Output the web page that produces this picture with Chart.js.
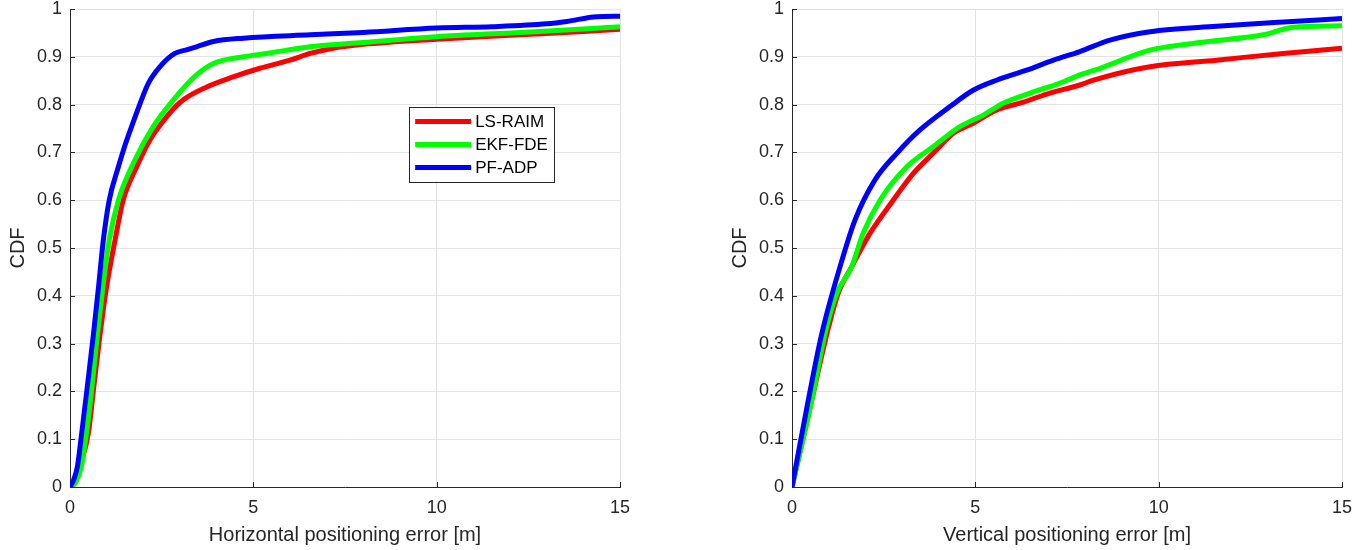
<!DOCTYPE html>
<html lang="en">
<head>
  <meta charset="UTF-8">
  <title>CDF of positioning error</title>
  <script src="https://cdn.jsdelivr.net/npm/chart.js"></script>
  <style>
    html, body {
      margin: 0;
      padding: 0;
      background: #fff;
      width: 1368px;
      height: 550px;
      overflow: hidden;
    }
    .panel {
      position: absolute;
      top: 0;
      height: 550px;
    }
    #left { left: 0; width: 640px; }
    #right { left: 722px; width: 646px; }
  </style>
</head>
<body>

  <div class="panel" id="left"><canvas id="hChart"></canvas></div>
  <div class="panel" id="right"><canvas id="vChart"></canvas></div>

  <script>
    const seriesNames = ['LS-RAIM', 'EKF-FDE', 'PF-ADP'];
    const xTicks = [0, 5, 10, 15];
    const yTicks = [0, 0.1, 0.2, 0.3, 0.4, 0.5, 0.6, 0.7, 0.8, 0.9, 1];

    // horizontal error CDF
    const lsRaimHorizX = [0, 0.15, 0.27, 0.5, 0.65, 0.82, 1.0, 1.23, 1.45, 1.82, 2.18, 2.64, 3.09, 3.73, 4.45, 5.18, 6.0, 6.55, 7.18, 8, 10, 12, 14, 15];
    const lsRaimHorizY = [0, 0.01, 0.042, 0.112, 0.21, 0.32, 0.42, 0.517, 0.6, 0.67, 0.726, 0.775, 0.81, 0.837, 0.858, 0.876, 0.893, 0.907, 0.918, 0.926, 0.9366, 0.945, 0.953, 0.9575];
    const ekfFdeHorizX = [0, 0.15, 0.3, 0.45, 0.6, 0.75, 0.9, 1.07, 1.32, 1.77, 2.27, 2.82, 3.45, 3.91, 4.73, 5.36, 6.55, 8, 10, 12, 14, 15];
    const ekfFdeHorizY = [0, 0.01, 0.04, 0.112, 0.21, 0.32, 0.42, 0.517, 0.6, 0.684, 0.754, 0.81, 0.862, 0.886, 0.9, 0.907, 0.921, 0.93, 0.942, 0.95, 0.958, 0.963];
    const pfAdpHorizX = [0, 0.1, 0.2, 0.32, 0.48, 0.64, 0.78, 0.91, 1.07, 1.32, 1.5, 1.68, 1.9, 2.14, 2.45, 2.86, 3.2, 3.45, 3.91, 4.73, 6.55, 8, 10, 11.5, 13, 13.55, 14.36, 15];
    const pfAdpHorizY = [0, 0.015, 0.042, 0.113, 0.215, 0.32, 0.42, 0.517, 0.6, 0.67, 0.715, 0.754, 0.8, 0.845, 0.879, 0.907, 0.915, 0.921, 0.932, 0.939, 0.946, 0.951, 0.96, 0.963, 0.969, 0.974, 0.984, 0.985];

    // vertical error CDF
    const lsRaimVertX = [0, 0.54, 0.95, 1.26, 1.63, 2.13, 2.76, 3.31, 3.85, 4.4, 4.94, 5.58, 6.22, 6.95, 7.85, 8.22, 9.76, 11.58, 13.4, 15];
    const lsRaimVertY = [0, 0.182, 0.32, 0.405, 0.461, 0.531, 0.6, 0.656, 0.698, 0.74, 0.761, 0.789, 0.803, 0.822, 0.841, 0.851, 0.879, 0.893, 0.907, 0.918];
    const ekfFdeVertX = [0, 0.54, 0.9, 1.22, 1.63, 1.94, 2.4, 3.13, 3.85, 4.58, 5.22, 5.76, 6.49, 7.31, 7.85, 8.4, 9.76, 11.13, 12.85, 13.67, 15];
    const ekfFdeVertY = [0, 0.182, 0.32, 0.405, 0.461, 0.531, 0.6, 0.67, 0.712, 0.754, 0.778, 0.803, 0.824, 0.845, 0.862, 0.876, 0.914, 0.93, 0.946, 0.962, 0.965];
    const pfAdpVertX = [0, 0.445, 0.81, 1.31, 1.72, 2.26, 2.86, 3.49, 4.31, 4.94, 5.58, 6.4, 7.13, 7.85, 8.67, 9.76, 11.58, 13.4, 15];
    const pfAdpVertY = [0, 0.182, 0.32, 0.461, 0.559, 0.642, 0.698, 0.747, 0.796, 0.83, 0.851, 0.872, 0.893, 0.911, 0.935, 0.9526, 0.964, 0.973, 0.98];

    const colors = ['#ff0000', '#00ff00', '#0000ff'];
    const axisColor = '#262626';
    const gridColor = '#e3e3e3';
    const fontFamily = '"Liberation Sans", Arial, sans-serif';

    function toPoints(xs, ys) {
      return xs.map((x, i) => ({ x: x, y: ys[i] }));
    }

    // MATLAB style ticks pointing into the plot
    const innerTicks = {
      id: 'innerTicks',
      beforeDatasetsDraw(chart) {
        const { ctx, chartArea, scales } = chart;
        ctx.save();
        ctx.strokeStyle = axisColor;
        ctx.lineWidth = 1;
        ctx.beginPath();
        xTicks.forEach(v => {
          const px = Math.round(scales.x.getPixelForValue(v)) + 0.5;
          ctx.moveTo(px, chartArea.bottom);
          ctx.lineTo(px, chartArea.bottom - 5);
        });
        yTicks.forEach(v => {
          const py = Math.round(scales.y.getPixelForValue(v)) + 0.5;
          ctx.moveTo(chartArea.left, py);
          ctx.lineTo(chartArea.left + 5, py);
        });
        ctx.stroke();
        ctx.restore();
      }
    };

    // boxed legend inside the left plot
    const boxLegend = {
      id: 'boxLegend',
      afterDraw(chart, args, opts) {
        if (!opts.show) return;
        const { ctx, scales } = chart;
        const left = scales.x.getPixelForValue(opts.x);
        const top = scales.y.getPixelForValue(opts.y);
        const w = 145, h = 75;
        ctx.save();
        ctx.fillStyle = '#fff';
        ctx.fillRect(left, top, w, h);
        ctx.strokeStyle = axisColor;
        ctx.lineWidth = 1;
        ctx.strokeRect(Math.round(left) + 0.5, Math.round(top) + 0.5, w, h);
        ctx.font = '17px ' + fontFamily;
        ctx.textBaseline = 'middle';
        chart.data.datasets.forEach((ds, i) => {
          const cy = top + 15 + i * 23;
          ctx.strokeStyle = ds.borderColor;
          ctx.lineWidth = 5;
          ctx.beginPath();
          ctx.moveTo(left + 6, cy);
          ctx.lineTo(left + 62, cy);
          ctx.stroke();
          ctx.fillStyle = '#000';
          ctx.fillText(ds.label, left + 66, cy + 1);
        });
        ctx.restore();
      }
    };

    function makeChart(id, xTitle, xsList, ysList, rightPad, legendOpts) {
      const ctx = document.getElementById(id).getContext('2d');
      return new Chart(ctx, {
        type: 'scatter',
        data: {
          datasets: seriesNames.map((name, i) => ({
            label: name,
            data: toPoints(xsList[i], ysList[i]),
            showLine: true,
            borderColor: colors[i],
            backgroundColor: colors[i],
            borderWidth: 5,
            pointRadius: 0,
            cubicInterpolationMode: 'monotone',
            order: 3 - i
          }))
        },
        options: {
          responsive: true,
          maintainAspectRatio: false,
          animation: false,
          layout: { padding: { top: 9, right: rightPad, left: 0, bottom: 0 } },
          plugins: {
            legend: { display: false },
            tooltip: { enabled: false },
            boxLegend: legendOpts
          },
          scales: {
            x: {
              type: 'linear',
              min: 0,
              max: 15,
              afterFit: s => { s.height = 63; s.paddingLeft = 0; s.paddingRight = 0; },
              afterBuildTicks: s => { s.ticks = xTicks.map(v => ({ value: v })); },
              ticks: {
                color: axisColor,
                padding: 10,
                maxRotation: 0,
                font: { family: fontFamily, size: 18 },
                callback: v => String(v)
              },
              grid: { color: gridColor, drawTicks: false },
              border: { color: axisColor, width: 1 },
              title: {
                display: true,
                text: xTitle,
                color: axisColor,
                padding: { top: 0, bottom: 3 },
                font: { family: fontFamily, size: 20 }
              }
            },
            y: {
              type: 'linear',
              min: 0,
              max: 1,
              afterFit: s => { s.width = 70; s.paddingTop = 0; s.paddingBottom = 0; },
              afterBuildTicks: s => { s.ticks = yTicks.map(v => ({ value: v })); },
              ticks: {
                color: axisColor,
                padding: 8,
                font: { family: fontFamily, size: 18 },
                callback: v => String(+v.toFixed(1))
              },
              grid: { color: gridColor, drawTicks: false },
              border: { color: axisColor, width: 1 },
              title: {
                display: true,
                text: 'CDF',
                color: axisColor,
                padding: { top: 6, bottom: 0 },
                font: { family: fontFamily, size: 20 }
              }
            }
          }
        },
        plugins: [innerTicks, boxLegend]
      });
    }

    makeChart('hChart', 'Horizontal positioning error [m]',
      [lsRaimHorizX, ekfFdeHorizX, pfAdpHorizX],
      [lsRaimHorizY, ekfFdeHorizY, pfAdpHorizY],
      20, { show: true, x: 9.25, y: 0.796 });

    makeChart('vChart', 'Vertical positioning error [m]',
      [lsRaimVertX, ekfFdeVertX, pfAdpVertX],
      [lsRaimVertY, ekfFdeVertY, pfAdpVertY],
      26, { show: false });
  </script>

</body>
</html>
